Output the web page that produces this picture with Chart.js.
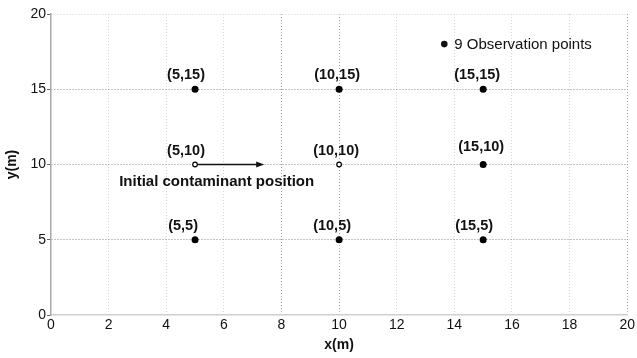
<!DOCTYPE html>
<html>
<head>
<meta charset="utf-8">
<script src="https://cdn.jsdelivr.net/npm/chart.js@4.4.1/dist/chart.umd.min.js"></script>
<style>
  html, body { margin: 0; padding: 0; background: #ffffff; }
  #wrap { width: 637px; height: 358px; }
</style>
</head>
<body>
<div id="wrap"><canvas id="c" width="637" height="358"></canvas></div>
<script>
// Observation grid (metres)
const pointX = [5, 10, 15, 5, 10, 15, 5, 10, 15];
const pointY = [15, 15, 15, 10, 10, 10, 5, 5, 5];
// Points on the contaminant's starting row that are drawn hollow
const hollowPoints = [3, 4];
const seriesName = '9 Observation points';

// Initial contaminant position and its direction arrow
const arrowFrom = [5, 10];
const arrowTo = [7.4, 10];
const arrowLabel = 'Initial contaminant position';
const arrowLabelAt = [5.75, 8.85];

const axisX = { min: 0, max: 20, step: 2, title: 'x(m)' };
const axisY = { min: 0, max: 20, step: 5, title: 'y(m)' };

const FONT = '"Liberation Sans", Arial, Helvetica, sans-serif';

const data = pointX.map((x, i) => ({ x, y: pointY[i] }));

// Per-point label tweaks (pixels)
const labelShift = [[-9, 0], [-2, 0], [-6, 0], [-9, 0], [-3, 0], [-2, -4], [-12, 0], [-7, 0], [-9, 0]];

const annotations = {
  id: 'annotations',
  afterDatasetsDraw(chart) {
    const { ctx, scales: { x, y } } = chart;
    ctx.save();
    // coordinate labels above each point
    ctx.font = 'bold 14.5px ' + FONT;
    ctx.fillStyle = '#111';
    ctx.textAlign = 'center';
    ctx.textBaseline = 'alphabetic';
    data.forEach((p, i) => {
      const px = x.getPixelForValue(p.x) + labelShift[i][0];
      const py = y.getPixelForValue(p.y) - 10 + labelShift[i][1];
      ctx.fillText('(' + p.x + ',' + p.y + ')', px, py);
    });

    // arrow
    const x0 = x.getPixelForValue(arrowFrom[0]) + 3;
    const y0 = y.getPixelForValue(arrowFrom[1]);
    const x1 = x.getPixelForValue(arrowTo[0]);
    const y1 = y.getPixelForValue(arrowTo[1]);
    ctx.strokeStyle = '#111';
    ctx.fillStyle = '#111';
    ctx.lineWidth = 1.3;
    ctx.beginPath();
    ctx.moveTo(x0, y0);
    ctx.lineTo(x1 - 6, y1);
    ctx.stroke();
    ctx.beginPath();
    ctx.moveTo(x1, y1);
    ctx.lineTo(x1 - 8, y1 - 3);
    ctx.lineTo(x1 - 8, y1 + 3);
    ctx.closePath();
    ctx.fill();

    ctx.font = 'bold 15px ' + FONT;
    ctx.fillText(arrowLabel, x.getPixelForValue(arrowLabelAt[0]), y.getPixelForValue(arrowLabelAt[1]) + 4);

    // legend entry
    const lx = x.getPixelForValue(13.65);
    const ly = y.getPixelForValue(18.0);
    ctx.beginPath();
    ctx.arc(lx, ly, 3.3, 0, Math.PI * 2);
    ctx.fill();
    ctx.font = '15px ' + FONT;
    ctx.textAlign = 'left';
    ctx.textBaseline = 'middle';
    ctx.fillText(seriesName, lx + 10, ly + 1);
    ctx.restore();
  }
};

new Chart(document.getElementById('c'), {
  type: 'scatter',
  data: {
    datasets: [{
      label: seriesName,
      data,
      pointRadius: ctx => hollowPoints.includes(ctx.dataIndex) ? 2.3 : 3.5,
      pointHoverRadius: ctx => hollowPoints.includes(ctx.dataIndex) ? 2.3 : 3.5,
      backgroundColor: ctx => hollowPoints.includes(ctx.dataIndex) ? '#ffffff' : '#000000',
      borderColor: '#000000',
      borderWidth: ctx => hollowPoints.includes(ctx.dataIndex) ? 1.2 : 0
    }]
  },
  options: {
    responsive: false,
    animation: false,
    events: [],
    layout: { padding: { top: 14, right: 8, left: 0, bottom: 0 } },
    plugins: {
      legend: { display: false },
      tooltip: { enabled: false }
    },
    scales: {
      x: {
        type: 'linear',
        min: axisX.min, max: axisX.max,
        afterFit(s) { s.height = 43; },
        ticks: {
          stepSize: axisX.step,
          color: '#111',
          font: { family: FONT, size: 14 },
          padding: 2
        },
        grid: {
          drawTicks: false,
          color: c => (c.tick && c.tick.value === 0) ? 'rgba(0,0,0,0)' :
            ([8, 10, 20].includes(c.tick && c.tick.value) ? '#a0a0a0' : '#d4d4d4'),
          lineWidth: 1
        },
        border: { display: true, color: '#cfcfcf', width: 1.5, dash: [1, 2] },
        title: {
          display: true,
          text: axisX.title,
          color: '#111',
          font: { family: FONT, size: 14, weight: 'bold' },
          padding: { top: 0, bottom: 4 }
        }
      },
      y: {
        type: 'linear',
        min: axisY.min, max: axisY.max,
        afterFit(s) { s.width = 51; },
        ticks: {
          stepSize: axisY.step,
          color: '#111',
          font: { family: FONT, size: 14 },
          padding: 1
        },
        grid: {
          drawTicks: true,
          tickLength: 4,
          tickColor: '#666',
          color: c => (c.tick && c.tick.value === 0) ? 'rgba(0,0,0,0)' :
            (c.tick && c.tick.value === 20 ? '#d0d0d0' : '#8a8a8a'),
          lineWidth: 1
        },
        border: { display: true, color: '#a8a8a8', width: 1.5, dash: [1, 2] },
        title: {
          display: true,
          text: axisY.title,
          color: '#111',
          font: { family: FONT, size: 14, weight: 'bold' },
          padding: { top: 4, bottom: 0 }
        }
      }
    }
  },
  plugins: [annotations]
});
</script>
</body>
</html>
